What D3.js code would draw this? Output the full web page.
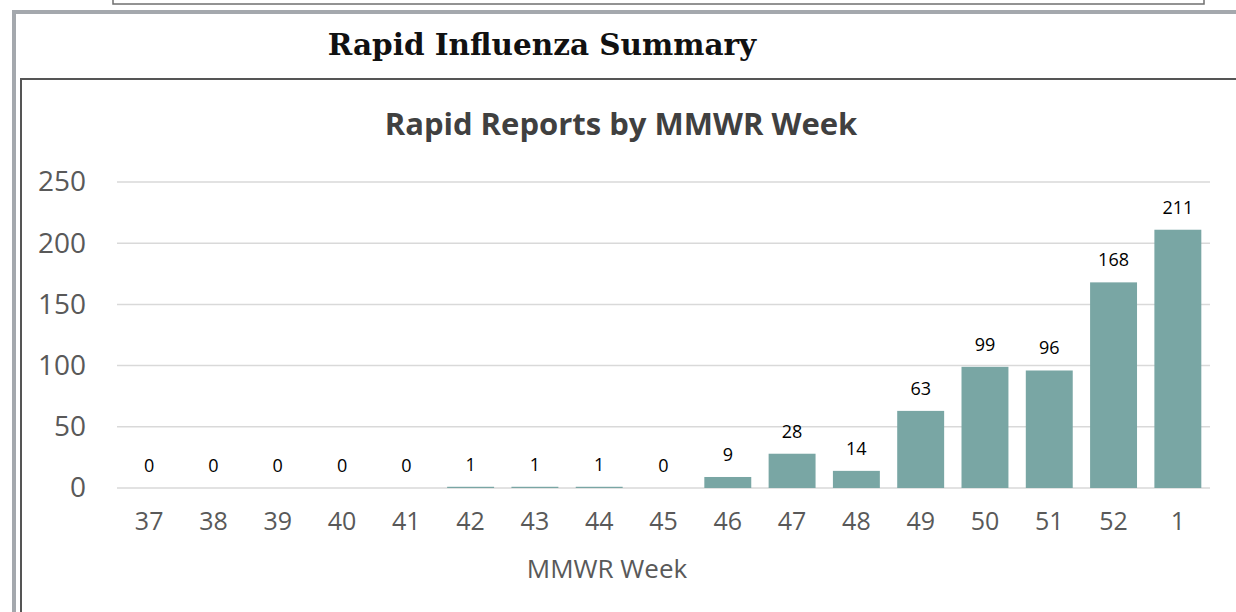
<!DOCTYPE html>
<html><head><meta charset="utf-8">
<script src="https://cdn.jsdelivr.net/npm/d3@7"></script>
<style>body{margin:0;background:#fff;overflow:hidden}</style>
</head><body>
<svg id="c" width="1236" height="612"></svg>
<script>
const weeks = ["37","38","39","40","41","42","43","44","45","46","47","48","49","50","51","52","1"];
const reports = [0,0,0,0,0,1,1,1,0,9,28,14,63,99,96,168,211];
const yTicks = [0,50,100,150,200,250];
const pageTitle = "Rapid Influenza Summary";
const chartTitle = "Rapid Reports by MMWR Week";
const xAxisTitle = "MMWR Week";

const svg = d3.select("#c");
// decorative frames
svg.append("rect").attr("x",113).attr("y",-10).attr("width",1091).attr("height",14)
  .attr("fill","none").attr("stroke","#6f6f6f").attr("stroke-width",1.5);
svg.append("path").attr("d","M14,612 V12 H1236").attr("fill","none")
  .attr("stroke","#a4a8ad").attr("stroke-width",4);
svg.append("path").attr("d","M21,612 V79 H1236").attr("fill","none")
  .attr("stroke","#555").attr("stroke-width",2);

svg.append("text").attr("x",542).attr("y",55).attr("text-anchor","middle")
  .attr("font-family","DejaVu Serif").attr("font-weight","bold").attr("font-size",29.5)
  .attr("fill","#111").text(pageTitle);

svg.append("text").attr("x",621).attr("y",135).attr("text-anchor","middle")
  .attr("font-family","Open Sans").attr("font-weight","bold").attr("font-size",31)
  .attr("fill","#404040").text(chartTitle);

const x = d3.scaleBand().domain(weeks).range([117,1210]).paddingInner(0.27).paddingOuter(0.135);
const y = d3.scaleLinear().domain([0,250]).range([488,182]);

const grid = svg.append("g");
grid.selectAll("line").data(yTicks).join("line")
  .attr("x1",117).attr("x2",1210).attr("y1",d=>y(d)).attr("y2",d=>y(d))
  .attr("stroke","#d9d9d9").attr("stroke-width",1.5);

const yAxis = svg.append("g").attr("transform","translate(96,0)")
  .call(d3.axisLeft(y).tickValues(yTicks).tickSize(0).tickPadding(10));
yAxis.select(".domain").remove();
yAxis.selectAll("text").attr("font-family","Open Sans").attr("font-size",28).attr("fill","#595959");

const xAxis = svg.append("g").attr("transform","translate(0,488)")
  .call(d3.axisBottom(x).tickSize(0).tickPadding(0));
xAxis.select(".domain").remove();
xAxis.selectAll("text").attr("font-family","Open Sans").attr("font-size",25).attr("fill","#595959")
  .attr("dy",null).attr("y",42);

svg.append("g").selectAll("rect").data(reports).join("rect")
  .attr("x",(d,i)=>x(weeks[i])).attr("width",x.bandwidth())
  .attr("y",d=>y(d)).attr("height",d=>y(0)-y(d)).attr("fill","#79a6a4");

svg.append("g").selectAll("text").data(reports).join("text")
  .attr("x",(d,i)=>x(weeks[i])+x.bandwidth()/2).attr("y",d=>y(d)-16)
  .attr("text-anchor","middle").attr("font-family","Open Sans").attr("font-size",18)
  .attr("fill","#000").text(d=>d);

svg.append("text").attr("x",607).attr("y",578).attr("text-anchor","middle")
  .attr("font-family","Open Sans").attr("font-size",26).attr("fill","#595959").text(xAxisTitle);
</script>
</body></html>
